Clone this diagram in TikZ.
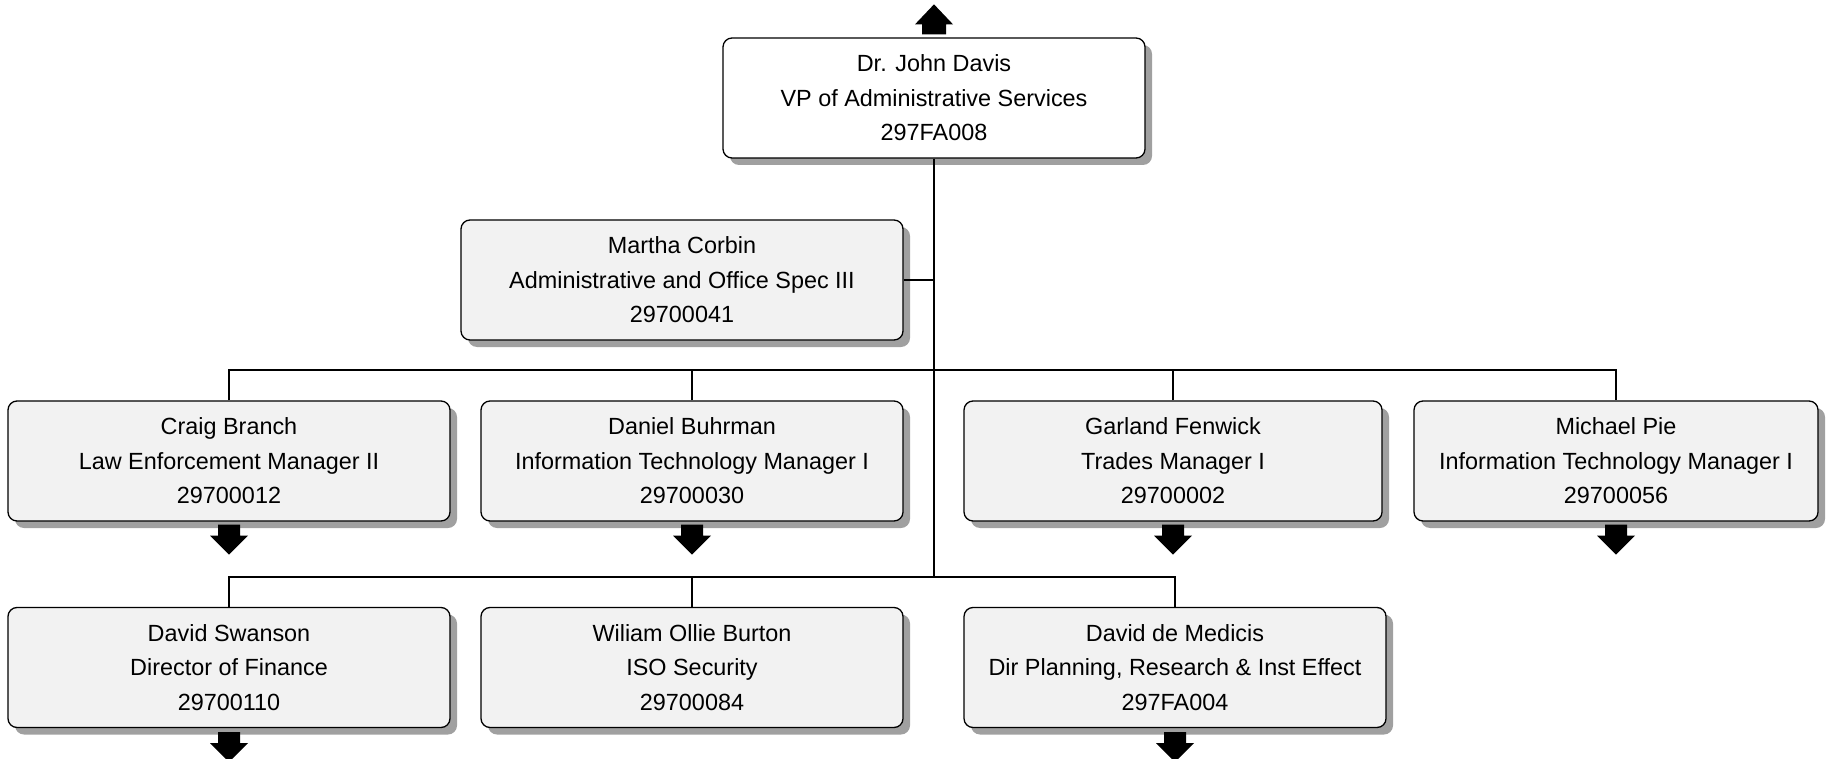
\documentclass[tikz,border=0pt]{standalone}
\usepackage{fontspec}
\setmainfont{Liberation Sans}
\usetikzlibrary{shadows,calc}
\definecolor{boxgray}{HTML}{F2F2F2}
\definecolor{shadowgray}{HTML}{A0A0A0}
\begin{document}
\begin{tikzpicture}[x=1pt,y=-1pt,
  box/.style={draw=black, line width=1.3pt, rounded corners=9pt, fill=boxgray,
    minimum height=120pt, align=center, inner sep=0pt,
    font=\fontsize{23.4}{34.4}\selectfont,
    general shadow={fill=shadowgray, shadow xshift=7pt, shadow yshift=-7pt}},
  conn/.style={draw=black, line width=1.2pt},
  mainconn/.style={draw=black, line width=2.2pt},
  downarr/.pic={\fill[black] (-11,0) -- (11,0) -- (11,11) -- (19,11) -- (0,30) -- (-19,11) -- (-11,11) -- cycle;},
  uparr/.pic={\fill[black] (-12,0) -- (12,0) -- (12,-10) -- (19,-10) -- (0,-30) -- (-19,-10) -- (-12,-10) -- cycle;}
]
\useasboundingbox (0,0) rectangle (1827,759);

\coordinate (b1) at (0,370);
\coordinate (b2) at (0,577);

\node[box, fill=white, minimum width=422pt] (top) at (934,98) {Dr. John Davis\\VP of Administrative Services\\297FA008};
\node[box, minimum width=442pt] (martha) at (682,280) {Martha Corbin\\Administrative and Office Spec III\\29700041};

\node[box, minimum width=442pt] (craig) at (229,461) {Craig Branch\\Law Enforcement Manager II\\29700012};
\node[box, minimum width=422pt] (daniel) at (692,461) {Daniel Buhrman\\Information Technology Manager I\\29700030};
\node[box, minimum width=418pt] (garland) at (1173,461) {Garland Fenwick\\Trades Manager I\\29700002};
\node[box, minimum width=404pt] (michael) at (1616,461) {Michael Pie\\Information Technology Manager I\\29700056};

\node[box, minimum width=442pt] (swanson) at (229,667.5) {David Swanson\\Director of Finance\\29700110};
\node[box, minimum width=422pt] (burton) at (692,667.5) {Wiliam Ollie Burton\\ISO Security\\29700084};
\node[box, minimum width=422pt] (medicis) at (1175,667.5) {David de Medicis\\Dir Planning, Research \& Inst Effect\\297FA004};

% main trunk
\draw[mainconn] (top.south) -- (top.south |- b2);
% assistant
\draw[conn] (martha.east) -- (martha.east -| top.south);
% first row bus
\draw[conn] (craig.north) -- (craig.north |- b1) -- (michael.north |- b1) -- (michael.north);
\draw[conn] (daniel.north) -- (daniel.north |- b1);
\draw[conn] (garland.north) -- (garland.north |- b1);
% second row bus
\draw[conn] (swanson.north) -- (swanson.north |- b2) -- (medicis.north |- b2) -- (medicis.north);
\draw[conn] (burton.north) -- (burton.north |- b2);

% expansion arrows
\pic at ($(top.north)+(0,-3)$) {uparr};
\pic at ($(craig.south)+(0,3)$) {downarr};
\pic at ($(daniel.south)+(0,3)$) {downarr};
\pic at ($(garland.south)+(0,3)$) {downarr};
\pic at ($(michael.south)+(0,3)$) {downarr};
\pic at ($(swanson.south)+(0,4)$) {downarr};
\pic at ($(medicis.south)+(0,4)$) {downarr};
\end{tikzpicture}
\end{document}
